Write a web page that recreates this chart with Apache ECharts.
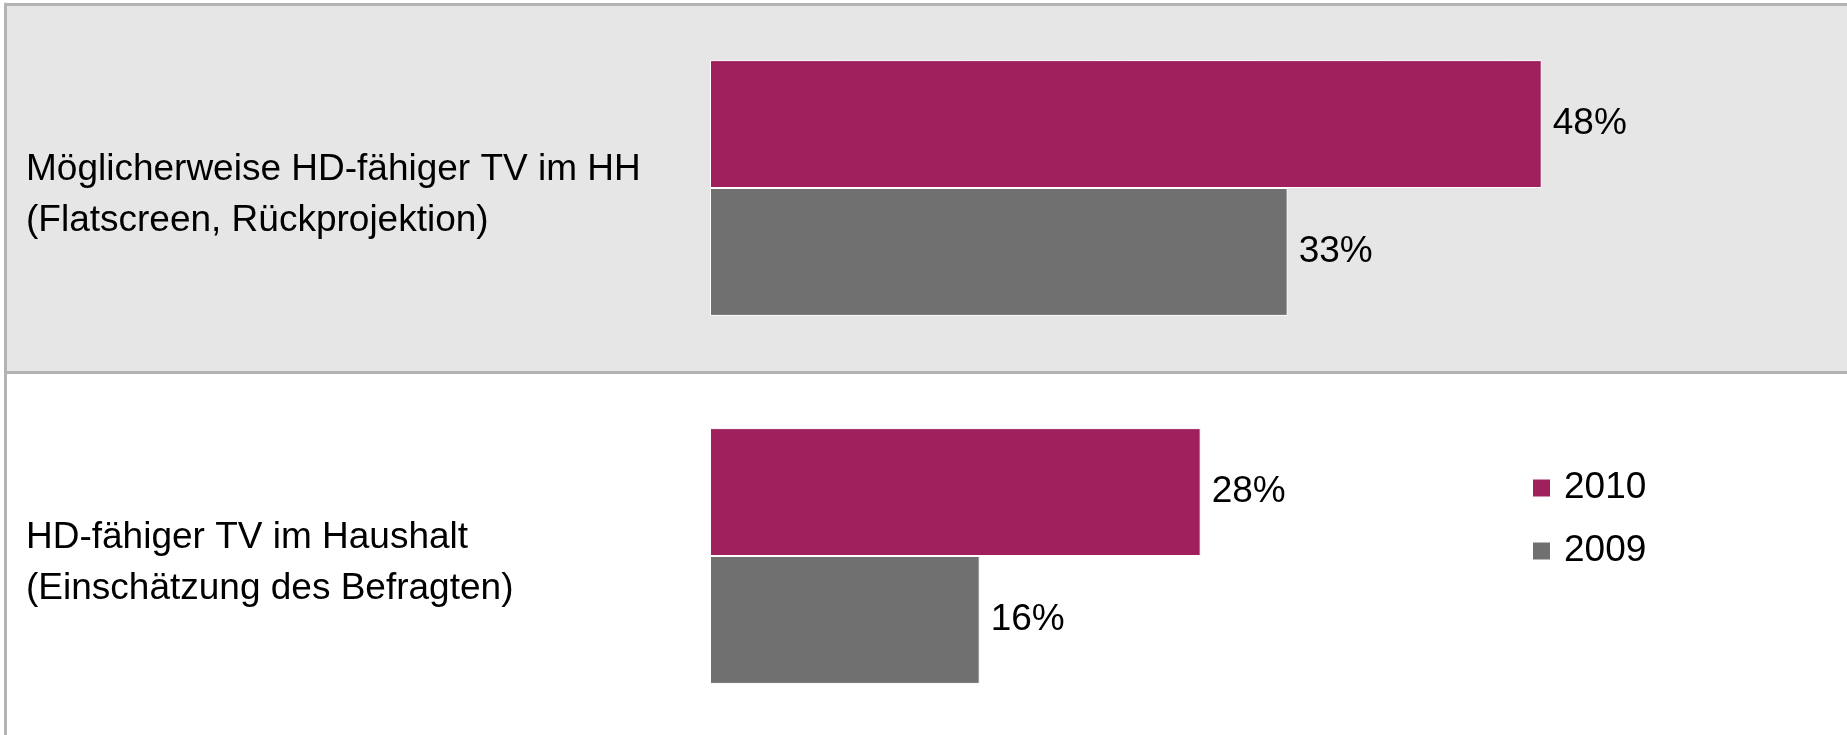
<!DOCTYPE html>
<html>
<head>
<meta charset="utf-8">
<script src="https://cdn.jsdelivr.net/npm/echarts@6/dist/echarts.min.js"></script>
<style>html,body{margin:0;padding:0;background:#fff;}#c{width:1847px;height:735px;}</style>
</head>
<body>
<div id="c"></div>
<script>
const categories = [
  'Möglicherweise HD-fähiger TV im HH\n(Flatscreen, Rückprojektion)',
  'HD-fähiger TV im Haushalt\n(Einschätzung des Befragten)'
];
const seriesNames = ['2010', '2009'];
const values2010 = [47.8, 28.2];
const values2009 = [33.2, 15.5];

const FONT = "'Liberation Sans', Arial, sans-serif";
const chart = echarts.init(document.getElementById('c'), null, {renderer: 'canvas'});
chart.setOption({
  animation: false,
  textStyle: {fontFamily: FONT},
  grid: [
    {left: 5, right: 0, top: 4, height: 736, outerBoundsMode: 'none', containLabel: false},
    {left: 710, width: 1044, top: 4, height: 736, outerBoundsMode: 'none', containLabel: false}
  ],
  xAxis: [
    {gridIndex: 0, type: 'value', min: 0, max: 1, show: false},
    {gridIndex: 1, type: 'value', min: 0, max: 60, show: false}
  ],
  yAxis: [
    {
      gridIndex: 0, type: 'category', data: categories, inverse: true,
      axisLine: {show: true, lineStyle: {color: '#b3b3b3', width: 3}},
      axisTick: {show: false},
      splitLine: {show: true, lineStyle: {color: '#b3b3b3', width: 3}},
      splitArea: {show: true, areaStyle: {color: ['#e6e6e6', '#ffffff']}},
      axisLabel: {
        inside: true, margin: 21, align: 'left', color: '#000',
        formatter: v => v.split('\n').map(s => '{t|' + s + '}').join('\n'),
        rich: {t: {fontSize: 37, lineHeight: 51, color: '#000', fontFamily: FONT, padding: [14, 0, 0, 0]}}
      }
    },
    {gridIndex: 1, type: 'category', data: categories, inverse: true, show: false}
  ],
  legend: {
    data: seriesNames,
    orient: 'vertical',
    left: 1526, top: 463,
    icon: 'rect',
    itemWidth: 19, itemHeight: 19, itemGap: 23,
    textStyle: {fontSize: 37, lineHeight: 40, color: '#000', padding: [0, 0, 0, 8], fontFamily: FONT}
  },
  series: [
    {
      name: seriesNames[0], type: 'bar', xAxisIndex: 1, yAxisIndex: 1, data: values2010,
      barCategoryGap: '30.5%', barGap: '0%',
      itemStyle: {color: '#a0205e', borderColor: '#ffffff', borderWidth: 1},
      label: {show: true, position: 'right', distance: 11, fontSize: 37, color: '#000', fontFamily: FONT,
        formatter: p => Math.round(p.value) + '%'}
    },
    {
      name: seriesNames[1], type: 'bar', xAxisIndex: 1, yAxisIndex: 1, data: values2009,
      barCategoryGap: '30.5%', barGap: '0%',
      itemStyle: {color: '#707070', borderColor: '#ffffff', borderWidth: 1},
      label: {show: true, position: 'right', distance: 11, fontSize: 37, color: '#000', fontFamily: FONT,
        formatter: p => Math.round(p.value) + '%'}
    }
  ]
});
</script>
</body>
</html>
